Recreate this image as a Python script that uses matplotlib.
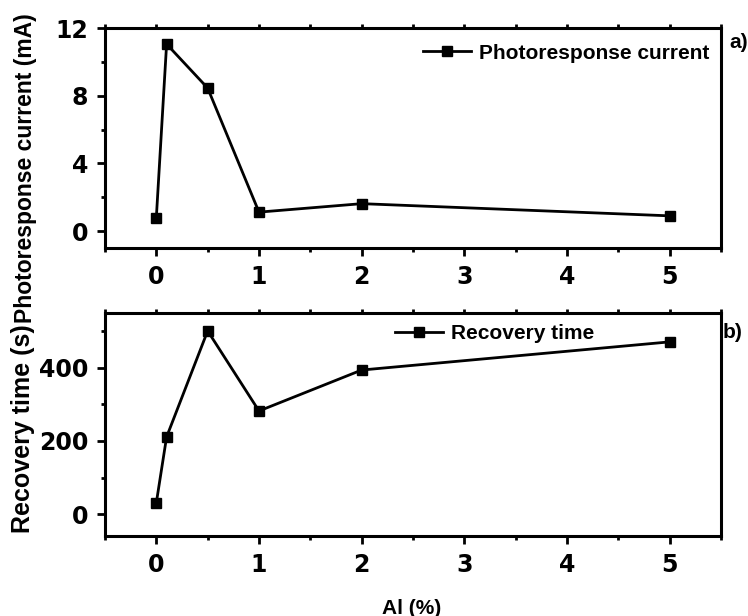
import matplotlib
matplotlib.use('Agg')
import matplotlib.pyplot as plt
from matplotlib.ticker import MultipleLocator

plt.rcParams['font.family'] = ['Liberation Sans', 'DejaVu Sans']
plt.rcParams['font.weight'] = 'bold'

# data
al = [0, 0.1, 0.5, 1, 2, 5]
current = [0.8, 11.05, 8.45, 1.12, 1.62, 0.9]
recovery = [31, 211, 501, 282, 394, 471]

W, H = 748, 616
fig = plt.figure(figsize=(W / 100, H / 100), dpi=100)

def frac(l, t, r, b):
    return [l / W, 1 - b / H, (r - l) / W, (b - t) / H]

ax1 = fig.add_axes(frac(105, 28, 721, 248))
ax2 = fig.add_axes(frac(105, 313, 721, 536))

ax1.plot(al, current, color='black', lw=2, marker='s', ms=7, label='Photoresponse current')
ax2.plot(al, recovery, color='black', lw=2, marker='s', ms=7, label='Recovery time')

ax1.set_ylim(-1, 12)
ax1.yaxis.set_major_locator(MultipleLocator(4))
ax1.yaxis.set_minor_locator(MultipleLocator(2))
ax2.set_ylim(-60, 550)
ax2.yaxis.set_major_locator(MultipleLocator(200))
ax2.yaxis.set_minor_locator(MultipleLocator(100))

for ax in (ax1, ax2):
    ax.set_xlim(-0.5, 5.5)
    ax.xaxis.set_major_locator(MultipleLocator(1))
    ax.xaxis.set_minor_locator(MultipleLocator(0.5))
    for s in ax.spines.values():
        s.set_linewidth(2.2)
    ax.tick_params(which='major', direction='out', length=6, width=2, labelsize=17, pad=6)
    ax.tick_params(which='minor', direction='out', length=3, width=2)
    ax.tick_params(axis='x', which='both', top=True, labeltop=False)
    for lab in ax.get_xticklabels() + ax.get_yticklabels():
        lab.set_fontweight('bold')
        lab.set_family('DejaVu Sans')
    for t in ax.xaxis.get_major_ticks() + ax.xaxis.get_minor_ticks():
        t.tick2line.set_markersize(3)

ax1.legend(loc='center', bbox_to_anchor=(0.749, 0.886), frameon=False,
           prop={'weight': 'bold', 'size': 15}, handlelength=2.3, handletextpad=0.4)
ax2.legend(loc='center', bbox_to_anchor=(0.633, 0.909), frameon=False,
           prop={'weight': 'bold', 'size': 15}, handlelength=2.3, handletextpad=0.4)

fig.text(26 / W, 1 - 168 / H, 'Photoresponse current (mA)', rotation=90,
         ha='center', va='center', fontsize=16.5, fontweight='bold')
fig.text(23 / W, 1 - 429 / H, 'Recovery time (s)', rotation=90,
         ha='center', va='center', fontsize=18, fontweight='bold')
fig.text(412 / W, 1 - 608 / H, 'Al (%)', ha='center', va='center',
         fontsize=15, fontweight='bold')
fig.text(739 / W, 1 - 43 / H, 'a)', ha='center', va='center', fontsize=15, fontweight='bold')
fig.text(733 / W, 1 - 332 / H, 'b)', ha='center', va='center', fontsize=15, fontweight='bold')

fig.savefig('out.png', dpi=100)
